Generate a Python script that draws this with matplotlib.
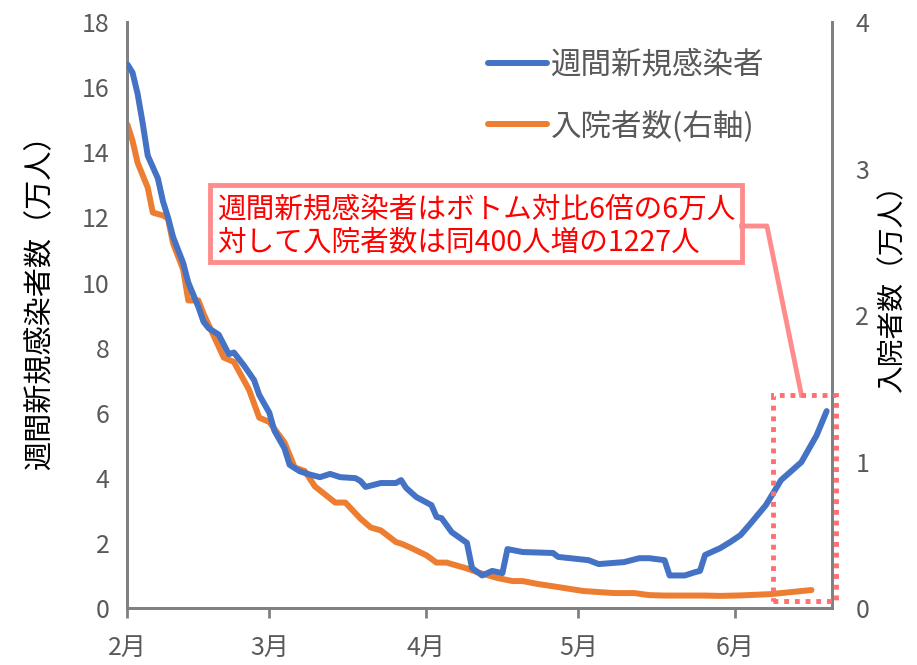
import matplotlib
matplotlib.use("Agg")
from matplotlib import pyplot as plt
import matplotlib.dates as mdates
from matplotlib.patches import Rectangle
from matplotlib.lines import Line2D
import pandas as pd

plt.rcParams['font.family'] = ['Noto Sans CJK JP', 'DejaVu Sans']

# 週間新規感染者（万人）
fechas_casos = ["2021-02-01", "2021-02-02", "2021-02-03", "2021-02-04", "2021-02-05",
                "2021-02-07", "2021-02-08", "2021-02-09", "2021-02-10", "2021-02-12",
                "2021-02-13", "2021-02-15", "2021-02-16", "2021-02-17", "2021-02-19",
                "2021-02-21", "2021-02-22", "2021-02-24", "2021-02-26", "2021-02-27",
                "2021-03-01", "2021-03-02", "2021-03-04", "2021-03-05", "2021-03-07",
                "2021-03-09", "2021-03-11", "2021-03-13", "2021-03-15", "2021-03-18",
                "2021-03-19", "2021-03-20", "2021-03-23", "2021-03-26", "2021-03-27",
                "2021-03-28", "2021-03-30", "2021-04-02", "2021-04-03", "2021-04-04",
                "2021-04-06", "2021-04-09", "2021-04-10", "2021-04-12", "2021-04-14",
                "2021-04-16", "2021-04-17", "2021-04-19", "2021-04-20", "2021-04-26",
                "2021-04-27", "2021-05-03", "2021-05-05", "2021-05-10", "2021-05-13",
                "2021-05-15", "2021-05-18", "2021-05-19", "2021-05-22", "2021-05-24",
                "2021-05-25", "2021-05-26", "2021-05-29", "2021-05-31", "2021-06-02",
                "2021-06-04", "2021-06-07", "2021-06-10", "2021-06-14", "2021-06-17",
                "2021-06-19"]
casos = [16.7, 16.45, 15.8, 14.9, 13.9,
         13.2, 12.5, 12.0, 11.4, 10.6,
         10.0, 9.25, 8.8, 8.6, 8.4,
         7.8, 7.85, 7.45, 7.0, 6.55,
         6.0, 5.45, 4.9, 4.4, 4.2,
         4.1, 4.02, 4.12, 4.02, 3.99,
         3.9, 3.72, 3.84, 3.84, 3.93,
         3.69, 3.41, 3.16, 2.8, 2.76,
         2.33, 2.0, 1.23, 1.0, 1.14,
         1.07, 1.81, 1.75, 1.72, 1.69,
         1.57, 1.47, 1.35, 1.41, 1.53,
         1.53, 1.47, 1.0, 1.0, 1.1,
         1.14, 1.63, 1.84, 2.03, 2.24,
         2.6, 3.16, 3.93, 4.48, 5.3,
         6.05]

# 入院者数（万人）
fechas_hosp = ["2021-02-01", "2021-02-02", "2021-02-03", "2021-02-05", "2021-02-06",
               "2021-02-08", "2021-02-09", "2021-02-10", "2021-02-12", "2021-02-13",
               "2021-02-15", "2021-02-16", "2021-02-18", "2021-02-20", "2021-02-22",
               "2021-02-25", "2021-02-27", "2021-03-01", "2021-03-04", "2021-03-06",
               "2021-03-08", "2021-03-10", "2021-03-14", "2021-03-16", "2021-03-19",
               "2021-03-21", "2021-03-23", "2021-03-26", "2021-03-27", "2021-03-29",
               "2021-04-01", "2021-04-03", "2021-04-05", "2021-04-09", "2021-04-11",
               "2021-04-15", "2021-04-18", "2021-04-20", "2021-04-23", "2021-04-27",
               "2021-05-02", "2021-05-05", "2021-05-08", "2021-05-12", "2021-05-15",
               "2021-05-18", "2021-05-22", "2021-05-26", "2021-05-29", "2021-06-02",
               "2021-06-08", "2021-06-16"]
hosp = [3.30, 3.19, 3.04, 2.87, 2.70,
        2.68, 2.66, 2.49, 2.31, 2.10,
        2.10, 2.01, 1.86, 1.71, 1.68,
        1.49, 1.30, 1.27, 1.13, 0.96,
        0.935, 0.83, 0.72, 0.72, 0.61,
        0.55, 0.53, 0.45, 0.44, 0.41,
        0.36, 0.31, 0.31, 0.27, 0.245,
        0.205, 0.184, 0.184, 0.164, 0.143,
        0.116, 0.109, 0.102, 0.102, 0.088,
        0.085, 0.085, 0.085, 0.0827, 0.086,
        0.095, 0.1227]

azul = "#4472C4"
naranja = "#ED7D31"
gris = "#595959"
rosa = "#FF8C8C"

fig = plt.figure(figsize=(9.17, 6.65), dpi=100)
ax = fig.add_axes([0.139, 0.0857, 0.768, 0.881])
ax2 = ax.twinx()

x1 = pd.to_datetime(fechas_casos)
x2 = pd.to_datetime(fechas_hosp)
ax.plot(x1, casos, color=azul, lw=4.3, solid_joinstyle="round", solid_capstyle="round", zorder=3)
ax2.plot(x2, hosp, color=naranja, lw=4.3, solid_joinstyle="round", solid_capstyle="round", zorder=3)
ax.set_zorder(ax2.get_zorder() + 1)
ax.patch.set_visible(False)

ax.set_xlim(pd.Timestamp("2021-02-01"), pd.Timestamp("2021-06-20"))
ax.set_ylim(0, 18)
ax2.set_ylim(0, 4)
ax.set_yticks(range(0, 19, 2))
ax2.set_yticks(range(0, 5))

ax.xaxis.set_major_locator(mdates.MonthLocator())
ax.xaxis.set_major_formatter(plt.FuncFormatter(lambda v, p: f"{mdates.num2date(v).month}月"))

for a in (ax, ax2):
    for s in a.spines.values():
        s.set_color("#808080")
        s.set_linewidth(2)
    a.spines["top"].set_visible(False)
ax.tick_params(axis="x", length=7, width=2, color="#808080", labelsize=18, labelcolor=gris, pad=12)
ax.tick_params(axis="y", length=0, labelsize=18, labelcolor=gris, pad=13)
ax2.tick_params(axis="y", length=0, labelsize=18, labelcolor=gris, pad=17)

ax.set_ylabel("週間新規感染者数（万人）", fontsize=21, labelpad=19)
ax2.set_ylabel("入院者数（万人）", fontsize=20, labelpad=6)
ax.yaxis.label.set_y(0.534)
ax2.yaxis.label.set_y(0.558)

# Leyenda
handles = [Line2D([], [], color=azul, lw=4.3, solid_capstyle="round"),
           Line2D([], [], color=naranja, lw=4.3, solid_capstyle="round")]
fig.legend(handles, ["週間新規感染者", "入院者数(右軸)"], loc="upper left",
           bbox_to_anchor=(0.516, 0.9485), frameon=False, fontsize=22,
           handlelength=1.93, handletextpad=0.1, labelspacing=0.97,
           borderpad=0, labelcolor=gris)

# Recuadro con el comentario
ax.add_patch(Rectangle((0.117, 0.590), 0.755, 0.132, transform=ax.transAxes,
                       fill=True, facecolor="white", edgecolor=rosa, lw=3.5,
                       zorder=5, clip_on=False))
ax.text(0.128, 0.652, "週間新規感染者はボトム対比6倍の6万人\n対して入院者数は同400人増の1227人",
        transform=ax.transAxes, color="red", fontsize=20.6, ha="left", va="center",
        linespacing=1.15, zorder=6)
ax.plot([0.872, 0.908, 0.957], [0.652, 0.652, 0.3635], transform=ax.transAxes,
        color=rosa, lw=3.5, zorder=5, clip_on=False)
ax.add_patch(Rectangle((0.916, 0.012), 0.09, 0.3515, transform=ax.transAxes,
                       fill=False, edgecolor="#FF6F6F", lw=3.5, linestyle=(0, (1, 1.2)),
                       zorder=5, clip_on=False))

fig.savefig("out.png", dpi=100)
